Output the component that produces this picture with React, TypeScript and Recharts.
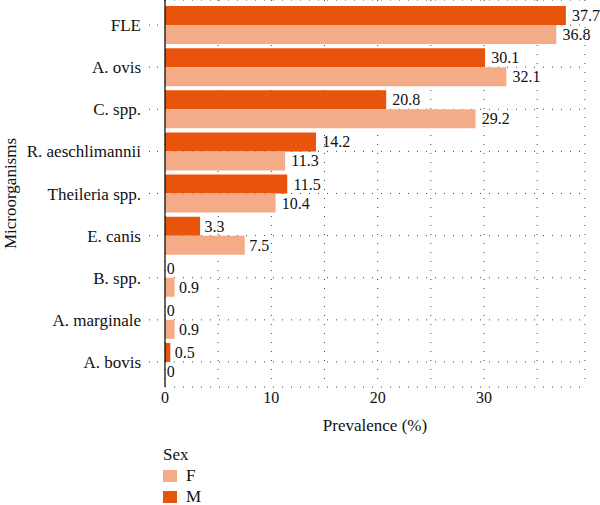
import React from 'react';
import { BarChart, Bar, XAxis, YAxis, CartesianGrid, LabelList } from 'recharts';

// Prevalence (%) of each microorganism by host sex
const organisms = [
  'FLE',
  'A. ovis',
  'C. spp.',
  'R. aeschlimannii',
  'Theileria spp.',
  'E. canis',
  'B. spp.',
  'A. marginale',
  'A. bovis',
];
const maleValues = [37.7, 30.1, 20.8, 14.2, 11.5, 3.3, 0, 0, 0.5];
const femaleValues = [36.8, 32.1, 29.2, 11.3, 10.4, 7.5, 0.9, 0.9, 0];
const xTicks = [0, 5, 10, 15, 20, 25, 30, 35];

const COLOR_M = '#E8540C';
const COLOR_F = '#F4AC88';
const FONT = "'Liberation Serif', serif";
const INK = '#111';

const data = organisms.map((name, i) => ({
  name,
  M: maleValues[i],
  F: femaleValues[i],
}));

// value text just past the end of each bar, nudged by a fraction of its own width
const ValueLabel = (props: any) => {
  const { x, y, width, height, value } = props;
  const s = String(value);
  const approxWidth = s.replace('.', '').length * 8 + (s.includes('.') ? 4 : 0);
  const nudge = approxWidth * 0.22;
  return (
    <text
      x={Number(x) + Number(width) + nudge}
      y={Number(y) + Number(height) / 2}
      dominantBaseline="central"
      fontFamily={FONT}
      fontSize={16}
      fill={INK}
    >
      {s}
    </text>
  );
};

const YTitle = (props: any) => {
  const { viewBox } = props;
  const cx = 10;
  const cy = viewBox.y + viewBox.height / 2;
  return (
    <text
      x={cx}
      y={cy}
      transform={`rotate(-90 ${cx} ${cy})`}
      textAnchor="middle"
      dominantBaseline="central"
      fontFamily={FONT}
      fontSize={17}
      fill={INK}
    >
      Microorganisms
    </text>
  );
};

export default function App() {
  return (
    <div
      style={{
        position: 'absolute',
        left: 0,
        top: 0,
        width: 600,
        height: 505,
        background: '#fff',
        fontFamily: FONT,
        overflow: 'hidden',
      }}
    >
      <BarChart
        width={600}
        height={505}
        data={data}
        layout="vertical"
        margin={{ top: 0, right: 15, bottom: 70, left: 0 }}
        barCategoryGap="5%"
        barGap={0}
      >
        <CartesianGrid stroke="#444" strokeDasharray="1 8" strokeWidth={1} />
        <XAxis
          type="number"
          domain={[0, 39.5]}
          ticks={xTicks}
          interval={0}
          tickFormatter={(v: number) => (v % 10 === 0 ? String(v) : '')}
          axisLine={false}
          tickLine={false}
          tickSize={0}
          tickMargin={5}
          height={48}
          tick={{ fill: INK, fontFamily: FONT, fontSize: 16 }}
          label={{
            value: 'Prevalence (%)',
            position: 'insideBottom',
            offset: 4,
            fill: INK,
            fontFamily: FONT,
            fontSize: 17,
          }}
        />
        <YAxis
          type="category"
          dataKey="name"
          width={165}
          interval={0}
          padding={{ top: 4, bottom: 4 }}
          axisLine={{ stroke: '#000', strokeWidth: 1.2 }}
          tickLine={{ stroke: '#444', strokeDasharray: '1 7' }}
          tickSize={16}
          tickMargin={8}
          tick={{ fill: INK, fontFamily: FONT, fontSize: 17 }}
          label={{ content: YTitle }}
        />
        <Bar dataKey="M" fill={COLOR_M} minPointSize={0.01} isAnimationActive={false}>
          <LabelList dataKey="M" content={ValueLabel} />
        </Bar>
        <Bar dataKey="F" fill={COLOR_F} minPointSize={0.01} isAnimationActive={false}>
          <LabelList dataKey="F" content={ValueLabel} />
        </Bar>
      </BarChart>

      {/* legend */}
      <div
        style={{
          position: 'absolute',
          left: 163,
          top: 444,
          fontSize: 17,
          color: INK,
          lineHeight: '21px',
        }}
      >
        <div>Sex</div>
        {[
          { key: 'F', color: COLOR_F },
          { key: 'M', color: COLOR_M },
        ].map((item) => (
          <div key={item.key} style={{ display: 'flex', alignItems: 'center', height: 21 }}>
            <span
              style={{
                display: 'inline-block',
                width: 14,
                height: 12,
                background: item.color,
                marginRight: 9,
              }}
            />
            <span>{item.key}</span>
          </div>
        ))}
      </div>
    </div>
  );
}
